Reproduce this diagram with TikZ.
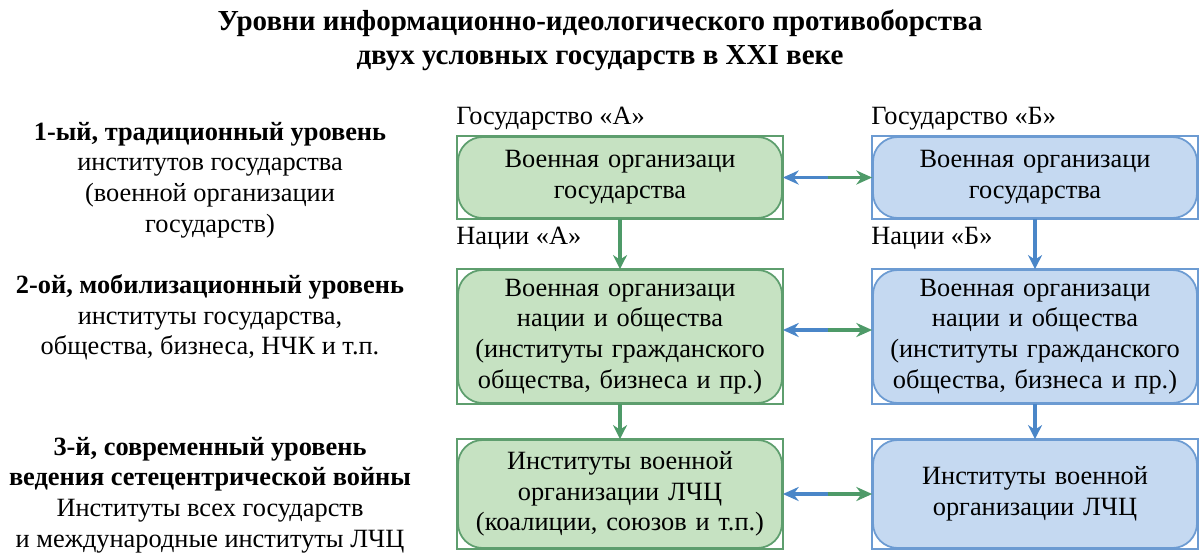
\documentclass[tikz,border=0pt]{standalone}
\usepackage{fontspec}
\setmainfont{Liberation Serif}
\usetikzlibrary{arrows.meta, positioning, calc}
\definecolor{gfill}{HTML}{C6E2C2}
\definecolor{gline}{HTML}{5E9E6E}
\definecolor{bfill}{HTML}{C5D9F1}
\definecolor{bline}{HTML}{6C9BD2}
\definecolor{garr}{HTML}{4E9A68}
\definecolor{barr}{HTML}{4A86C8}
\tikzstyle{gbox} = [rectangle, rounded corners=14pt, minimum width=6.48cm, text width=6.2cm, align=center, fill=gfill, draw=gline, line width=1pt]
\tikzstyle{bbox} = [rectangle, rounded corners=14pt, minimum width=6.48cm, text width=6.2cm, align=center, fill=bfill, draw=bline, line width=1pt]
\tikzstyle{level} = [align=center, font=\fontsize{15}{17.5}\selectfont]
\tikzstyle{head} = [anchor=west, font=\fontsize{15}{17.5}\selectfont]
\tikzstyle{down} = [line width=2pt, -{Stealth[length=8pt,width=8pt]}]
\tikzstyle{side} = [line width=2pt, -{Stealth[length=9pt,width=8pt]}]
\begin{document}
\begin{tikzpicture}[font=\fontsize{15}{17.5}\selectfont]
  \useasboundingbox (0,0) rectangle (24,-11.1);
  \node (title) [align=center, font=\bfseries\fontsize{16.5}{19.5}\selectfont] at (12,-0.8) {Уровни информационно-идеологического противоборства\\двух условных государств в XXI веке};
  % boxes of state A
  \node (a1) [gbox, minimum height=1.62cm] at (12.4,-3.55) {Военная организаци\\государства};
  \node (a2) [gbox, minimum height=2.66cm] at (12.4,-6.73) {Военная организаци\\нации и общества\\(институты гражданского\\общества, бизнеса и пр.)};
  \node (a3) [gbox, minimum height=2.16cm] at (12.4,-9.88) {Институты военной\\организации ЛЧЦ\\(коалиции, союзов и т.п.)};
  % boxes of state B
  \node (b1) [bbox, minimum height=1.62cm] at (20.7,-3.55) {Военная организаци\\государства};
  \node (b2) [bbox, minimum height=2.66cm] at (20.7,-6.73) {Военная организаци\\нации и общества\\(институты гражданского\\общества, бизнеса и пр.)};
  \node (b3) [bbox, minimum height=2.16cm] at (20.7,-9.88) {Институты военной\\организации ЛЧЦ};
  \foreach \n in {a1,a2,a3} \draw [gline, line width=1pt] (\n.north west) rectangle (\n.south east);
  \foreach \n in {b1,b2,b3} \draw [bline, line width=1pt] (\n.north west) rectangle (\n.south east);
  % headings
  \node (ha) [head, above=0pt of a1.north west, anchor=south west, xshift=-4pt] {Государство «А»};
  \node (hb) [head, above=0pt of b1.north west, anchor=south west, xshift=-4pt] {Государство «Б»};
  \node (na) [head, below=1pt of a1.south west, anchor=north west, xshift=-4pt] {Нации «А»};
  \node (nb) [head, below=1pt of b1.south west, anchor=north west, xshift=-4pt] {Нации «Б»};
  % levels
  \node (l1) [level] at (4.2,-3.6) {\textbf{1-ый, традиционный уровень}\\институтов государства\\(военной организации\\государств)};
  \node (l2) [level] at (4.2,-6.35) {\textbf{2-ой, мобилизационный уровень}\\институты государства,\\общества, бизнеса, НЧК и т.п.};
  \node (l3) [level] at (4.2,-9.9) {\textbf{3-й, современный уровень}\\\textbf{ведения сетецентрической войны}\\Институты всех государств\\и международные институты ЛЧЦ};
  % vertical links
  \draw [down, garr] (a1) -- (a2);
  \draw [down, garr] (a2) -- (a3);
  \draw [down, barr] (b1) -- (b2);
  \draw [down, barr] (b2) -- (b3);
  % horizontal links
  \coordinate (m1) at ($(a1.east)!0.5!(b1.west)$);
  \coordinate (m2) at (16.55,-6.6);
  \coordinate (m3) at ($(a3.east)!0.5!(b3.west)$);
  \foreach \m/\y in {m1/a1, m2/a2, m3/a3} \draw [side, barr] (\m) -- (\m -| \y.east);
  \foreach \m/\y in {m1/b1, m2/b2, m3/b3} \draw [side, garr] (\m) -- (\m -| \y.west);
\end{tikzpicture}
\end{document}
